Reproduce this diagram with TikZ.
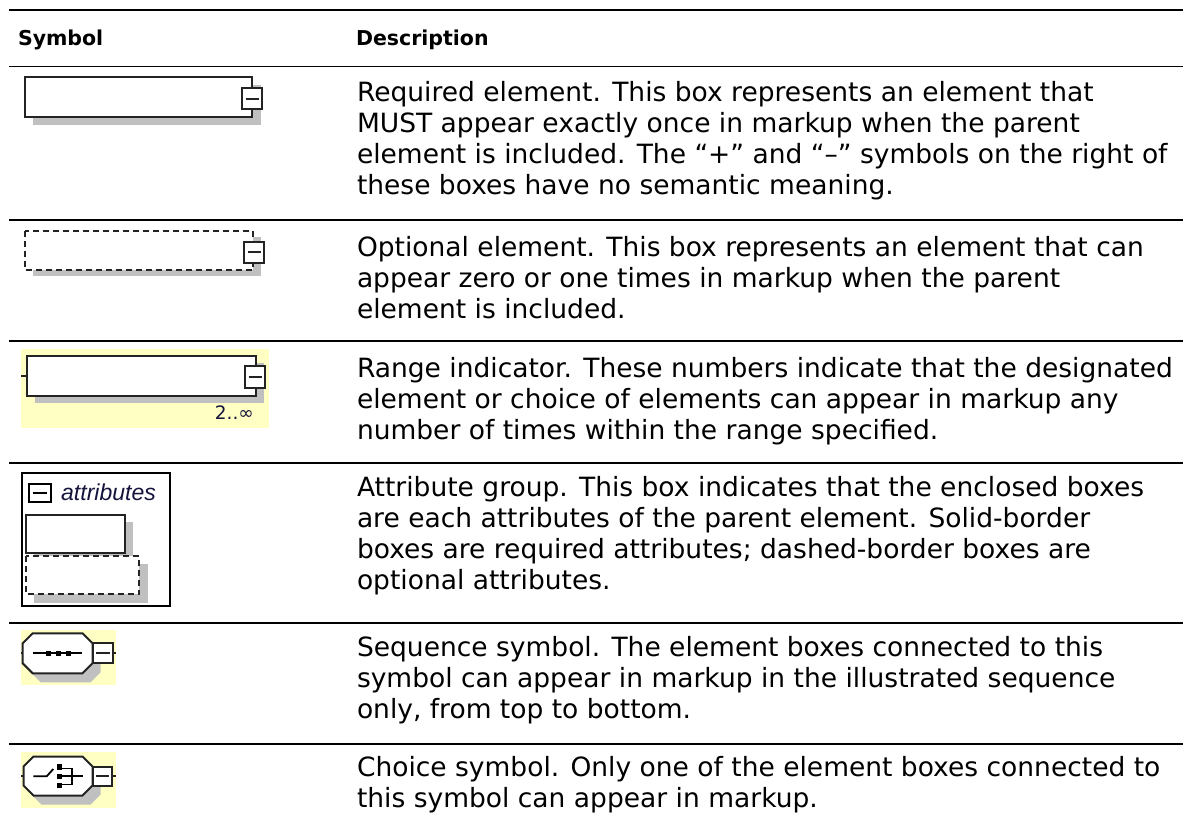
\documentclass[tikz,border=0pt]{standalone}
\usepackage{fontspec}
\setmainfont{DejaVu Sans}
\newfontfamily\arialfont{Liberation Sans}
\definecolor{shadowgray}{RGB}{192,192,192}
\definecolor{paleyellow}{RGB}{255,255,196}
\definecolor{boxline}{RGB}{35,35,35}
\definecolor{attrblue}{RGB}{20,20,60}
\newcommand\bodyfont{\fontsize{26.5}{31}\selectfont}
\newcommand\headfont{\bfseries\fontsize{20.5}{24}\selectfont}
\tikzset{
  txt/.style={anchor=base west,inner sep=0pt,outer sep=0pt,font=\bodyfont},
  headtxt/.style={anchor=base west,inner sep=0pt,outer sep=0pt,font=\headfont},
  rowrule/.style={line width=1.5pt,black},
  shadowfill/.style={fill=shadowgray,draw=none},
  solidbox/.style={fill=white,draw=boxline,line width=2.3pt},
  dashbox/.style={fill=white,draw=boxline,line width=2pt,dash pattern=on 6pt off 4pt},
  minusbox/.style={fill=white,draw=boxline,line width=2pt},
  minusline/.style={draw=boxline,line width=2pt},
  ybg/.style={fill=paleyellow,draw=none},
  octa/.style={fill=white,draw=boxline,line width=2pt},
  icon/.style={draw=black,line width=1.8pt},
}
\begin{document}
\begin{tikzpicture}[x=1pt,y=-1pt]
\useasboundingbox (0,0) rectangle (1183,825);
\fill[white] (0,0) rectangle (1183,825);

% ---- rules
\foreach \yy in {10,66.5,220,341,463,623,744}
  \draw[rowrule] (9,\yy) -- (1183,\yy);

% ---- header
\node[headtxt] (hsym) at (18,45.3) {Symbol};
\node[headtxt] (hdesc) at (356,45.3) {Description};

% ---- row 1: required element
\fill[shadowfill] (33,85.3) rectangle (260.5,125.3);
\draw[solidbox] (25,77.3) rectangle (252,117.3);
\draw[minusbox] (242,88) rectangle (262,109);
\draw[minusline] (245.5,98.5) -- (258.5,98.5);

\node[txt] (r1a) at (357,101.5) {Required element. This box represents an element that};
\node[txt] (r1b) at (357,132.5) {MUST appear exactly once in markup when the parent};
\node[txt] (r1c) at (357,163.5) {element is included. The “+” and “–” symbols on the right of};
\node[txt] (r1d) at (357,194.5) {these boxes have no semantic meaning.};

% ---- row 2: optional element
\fill[shadowfill] (33.3,237) rectangle (260.7,276);
\draw[dashbox] (25,231) rectangle (253,270);
\draw[minusbox] (244,241.7) rectangle (264,262.7);
\draw[minusline] (247.5,252.2) -- (260.5,252.2);

\node[txt] (r2a) at (357,256.5) {Optional element. This box represents an element that can};
\node[txt] (r2b) at (357,287.5) {appear zero or one times in markup when the parent};
\node[txt] (r2c) at (357,318.5) {element is included.};

% ---- row 3: range indicator
\fill[ybg] (21,349) rectangle (269,428);
\fill[shadowfill] (35.3,363) rectangle (263.5,403);
\draw[solidbox] (27.3,356) rectangle (256,396);
\draw[minusline] (21,375.5) -- (27.3,375.5);
\draw[minusbox] (245,366) rectangle (265,388);
\draw[minusline] (248.5,377) -- (261.5,377);
\node[anchor=base east,inner sep=0pt,font=\fontsize{18.5}{18.5}\selectfont,text=attrblue] (rng) at (254,419) {2..∞};

\node[txt] (r3a) at (357,377) {Range indicator. These numbers indicate that the designated};
\node[txt] (r3b) at (357,408) {element or choice of elements can appear in markup any};
\node[txt] (r3c) at (357,439) {number of times within the range specified.};

% ---- row 4: attribute group
\draw[fill=white,draw=black,line width=2pt] (21.5,473) rectangle (169.5,606);
\draw[minusbox,draw=black] (29,483.5) rectangle (50.5,501.5);
\draw[minusline,draw=black] (32.5,492.5) -- (47,492.5);
\node[anchor=base west,inner sep=0pt,font=\arialfont\itshape\fontsize{23}{23}\selectfont,text=attrblue] (attr) at (61,500) {attributes};
\fill[shadowfill] (33.7,522) rectangle (133.3,560.7);
\draw[solidbox] (25.7,515) rectangle (125,552.7);
\fill[shadowfill] (33.7,564) rectangle (147.7,602.7);
\draw[dashbox] (25.7,556) rectangle (139.3,594);

\node[txt] (r4a) at (357,496.5) {Attribute group. This box indicates that the enclosed boxes};
\node[txt] (r4b) at (357,527.5) {are each attributes of the parent element. Solid-border};
\node[txt] (r4c) at (357,558.5) {boxes are required attributes; dashed-border boxes are};
\node[txt] (r4d) at (357,589.5) {optional attributes.};

% ---- row 5: sequence symbol
\fill[ybg] (21,630) rectangle (116,685);
\fill[shadowfill,shift={(8,9)}] (22.7,643.3) -- (32.7,633.3) -- (82.5,633.3) -- (92.5,643.3) -- (92.5,663.3) -- (82.5,673.3) -- (32.7,673.3) -- (22.7,663.3) -- cycle;
\draw[octa] (22.7,643.3) -- (32.7,633.3) -- (82.5,633.3) -- (92.5,643.3) -- (92.5,663.3) -- (82.5,673.3) -- (32.7,673.3) -- (22.7,663.3) -- cycle;
\draw[minusline] (21,653.3) -- (22.7,653.3);
\draw[minusbox] (92.5,643.3) rectangle (113,663.3);
\draw[minusline] (96,653.3) -- (109.5,653.3);
\draw[minusline] (113,653.3) -- (116,653.3);
\draw[icon] (33,653.3) -- (81.7,653.3);
\foreach \xx in {48.3,58.3,68.3}
  \fill[black] (\xx-2.7,650.6) rectangle (\xx+2.7,656);

\node[txt] (r5a) at (357,656.5) {Sequence symbol. The element boxes connected to this};
\node[txt] (r5b) at (357,687.5) {symbol can appear in markup in the illustrated sequence};
\node[txt] (r5c) at (357,718.5) {only, from top to bottom.};

% ---- row 6: choice symbol
\fill[ybg] (21,751.5) rectangle (116,807.5);
\fill[shadowfill,shift={(8,9)}] (23.5,766.5) -- (33.5,756.5) -- (82.5,756.5) -- (92.5,766.5) -- (92.5,785.5) -- (82.5,795.5) -- (33.5,795.5) -- (23.5,785.5) -- cycle;
\draw[octa] (23.5,766.5) -- (33.5,756.5) -- (82.5,756.5) -- (92.5,766.5) -- (92.5,785.5) -- (82.5,795.5) -- (33.5,795.5) -- (23.5,785.5) -- cycle;
\draw[minusline] (21,776) -- (23.5,776);
\draw[minusbox] (92.5,767) rectangle (112,785.5);
\draw[minusline] (96,776.2) -- (108.5,776.2);
\draw[minusline] (112,776.2) -- (116,776.2);
\draw[icon] (33.3,776.3) -- (46.7,776.3) -- (53.3,769);
\foreach \yy in {767.2,776.3,785.5}
  \fill[black] (56.5,\yy-2.8) rectangle (62,\yy+2.8);
\draw[icon] (62,768.5) -- (71.7,768.5) -- (71.7,784.5) -- (62,784.5);
\draw[icon] (62,776.3) -- (83.3,776.3);

\node[txt] (r6a) at (357,776.5) {Choice symbol. Only one of the element boxes connected to};
\node[txt] (r6b) at (357,807.5) {this symbol can appear in markup.};
\end{tikzpicture}
\end{document}
